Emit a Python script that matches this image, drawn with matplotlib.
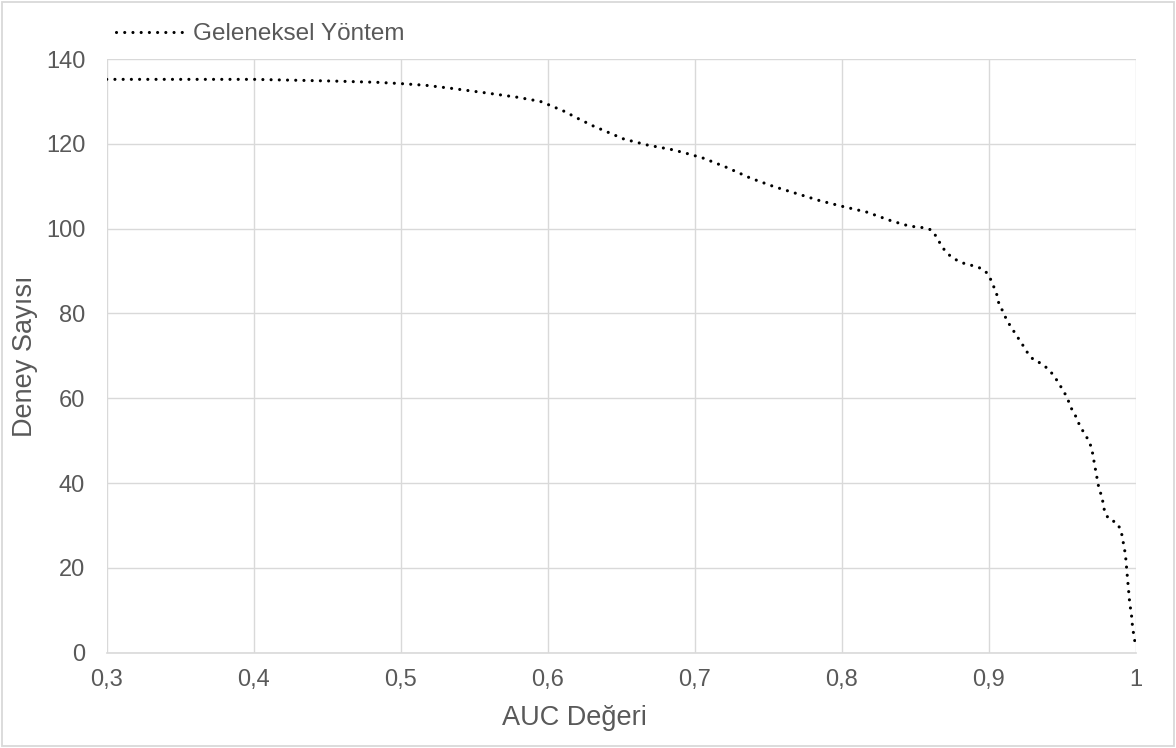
import matplotlib
matplotlib.use("Agg")
import matplotlib.pyplot as plt
from matplotlib.ticker import FuncFormatter, MultipleLocator
from matplotlib.patches import Rectangle

plt.rcParams['font.family'] = ['Liberation Sans', 'DejaVu Sans']

auc = [0.300, 0.350, 0.400, 0.454, 0.484, 0.500, 0.517, 0.534, 0.556, 0.579,
       0.595, 0.600, 0.611, 0.621, 0.631, 0.652, 0.668, 0.685, 0.696, 0.706,
       0.722, 0.738, 0.754, 0.770, 0.785, 0.801, 0.817, 0.834, 0.846, 0.856,
       0.861, 0.864, 0.867, 0.870, 0.874, 0.879, 0.884, 0.890, 0.895, 0.899,
       0.902, 0.904, 0.906, 0.907, 0.910, 0.912, 0.915, 0.918, 0.921, 0.924,
       0.927, 0.931, 0.936, 0.940, 0.944, 0.947, 0.950, 0.953, 0.955, 0.957,
       0.960, 0.962, 0.965, 0.968, 0.970, 0.971, 0.972, 0.973, 0.974, 0.975,
       0.977, 0.978, 0.979, 0.982, 0.987, 0.990, 0.991, 0.992, 0.993, 0.994,
       0.995, 0.996, 0.997, 0.998, 0.999, 1.000]
deney = [135.2, 135.2, 135.2, 134.8, 134.5, 134.2, 133.8, 133.1, 132.1, 131.0,
         130.0, 129.3, 127.7, 125.9, 124.2, 121.1, 119.7, 118.6, 117.6, 116.6,
         114.4, 111.9, 109.9, 108.2, 106.6, 105.2, 103.9, 101.8, 100.6, 100.2,
         99.7, 98.3, 96.5, 94.9, 93.5, 92.4, 91.7, 91.2, 90.6, 89.5,
         87.6, 85.8, 84.0, 82.1, 80.3, 78.6, 76.9, 75.3, 73.7, 72.1,
         70.4, 68.9, 68.2, 67.0, 65.5, 63.9, 62.2, 60.4, 58.7, 57.0,
         55.3, 53.4, 51.8, 50.0, 48.3, 46.4, 44.4, 42.5, 40.6, 38.7,
         36.8, 34.9, 33.0, 31.4, 30.7, 28.9, 27.0, 25.1, 23.2, 19.2,
         15.3, 11.4, 9.4, 5.5, 3.8, 1.0]

series_name = "Geleneksel Yöntem"
x_title = "AUC Değeri"
y_title = "Deney Sayısı"

text_col = '#595959'
grid_col = '#d9d9d9'
W, H = 1176, 748

fig = plt.figure(figsize=(W / 100, H / 100), dpi=100)
ax = fig.add_axes([106.7 / W, 1 - 652.7 / H, (1135.7 - 106.7) / W, (652.7 - 59) / H])

# excel style round dots
line, = ax.plot(auc, deney, color='black', lw=2.25,
                linestyle=(0, (0.01, 2.62)), dash_capstyle='round',
                solid_capstyle='round', label=series_name)

ax.set_xlim(0.3, 1.0)
ax.set_ylim(0, 140)
ax.xaxis.set_major_locator(MultipleLocator(0.1))
ax.yaxis.set_major_locator(MultipleLocator(20))
ax.xaxis.set_major_formatter(FuncFormatter(lambda v, p: f'{round(v, 2):g}'.replace('.', ',')))
ax.grid(True, color=grid_col, lw=1.0)
ax.set_axisbelow(True)
for s in ['top', 'right', 'left']:
    ax.spines[s].set_visible(False)
ax.spines['bottom'].set_color(grid_col)
ax.spines['bottom'].set_linewidth(1.2)
ax.tick_params(axis='both', length=0, labelsize=17, labelcolor=text_col)
ax.tick_params(axis='x', pad=12)
ax.tick_params(axis='y', pad=15.5)

fig.text(574.3 / W, 1 - 725 / H, x_title, ha='center', va='baseline',
         fontsize=19.5, color=text_col)
fig.text(25 / W, 1 - 356 / H, y_title, ha='center', va='center', rotation=90,
         fontsize=19.5, color=text_col)

leg = fig.legend(handles=[line], loc='center left',
                 bbox_to_anchor=(116 / W, 1 - 34 / H), frameon=False,
                 borderpad=0, borderaxespad=0, handlelength=2.92,
                 handletextpad=0.25, prop={'size': 17.5})
for t in leg.get_texts():
    t.set_color(text_col)

fig.patches.append(Rectangle((2 / W, 2 / H), 1 - 4 / W, 1 - 4 / H,
                             transform=fig.transFigure, fill=False,
                             edgecolor=grid_col, lw=1.3))

fig.savefig('out.png', dpi=100, facecolor='white')
